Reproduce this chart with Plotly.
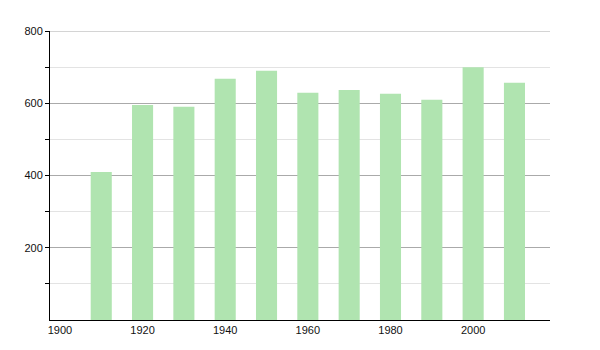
import plotly.graph_objects as go

years = [1910, 1920, 1930, 1940, 1950, 1960, 1970, 1980, 1990, 2000, 2010]
population = [410, 595, 590, 668, 690, 629, 637, 626, 610, 700, 657]
x_ticks = [1900, 1920, 1940, 1960, 1980, 2000]
y_ticks = [200, 400, 600, 800]

fig = go.Figure(go.Bar(
    x=years, y=population, width=5.1,
    marker=dict(color="#b0e4b0", line=dict(width=0)),
))

fig.add_shape(type="line", xref="paper", x0=0, x1=1, yref="y", y0=800, y1=800,
              line=dict(color="#aaaaaa", width=1), layer="below")

fig.update_layout(
    width=600, height=350,
    margin=dict(l=50, r=50, t=31, b=30),
    paper_bgcolor="white", plot_bgcolor="white",
    font=dict(family="Liberation Sans, Arial, sans-serif", size=11, color="#111"),
    showlegend=False,
    xaxis=dict(
        range=[1897.6, 2018.6], tickvals=x_ticks, showgrid=False,
        showline=True, linecolor="black", linewidth=1, ticks="", zeroline=False,
        ticklen=0,
    ),
    yaxis=dict(
        range=[0, 800], tickvals=y_ticks, showgrid=True, gridcolor="#aaaaaa",
        gridwidth=1, showline=True, linecolor="black", linewidth=1,
        ticks="outside", ticklen=4, tickcolor="black", zeroline=False,
        minor=dict(tickvals=[100, 300, 500, 700], showgrid=True,
                   gridcolor="#e3e3e3", ticks="outside", ticklen=4,
                   tickcolor="black"),
    ),
)

fig.write_html("out.html")
